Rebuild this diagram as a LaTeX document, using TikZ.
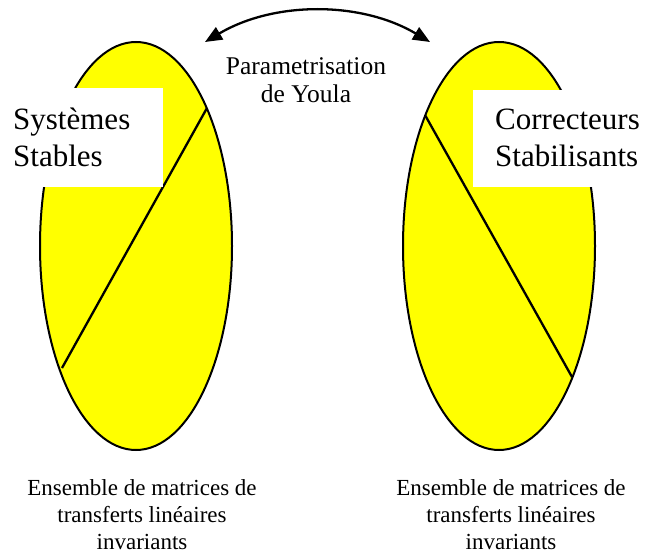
\documentclass[tikz,border=0pt]{standalone}
\usepackage{fontspec}
\setmainfont{Liberation Serif}
\usetikzlibrary{arrows.meta,shapes.geometric}
\definecolor{setyellow}{RGB}{255,255,0}
\begin{document}
\begin{tikzpicture}[x=1pt,y=-1pt,
  setshape/.style={ellipse, draw=black, line width=2pt, fill=setyellow, inner sep=0pt,
                   minimum width=192pt, minimum height=408pt},
  chord/.style={draw=black, line width=2.3pt},
  whitebox/.style={fill=white, draw=none},
  biglabel/.style={font=\fontsize{31}{37}\selectfont, align=left, inner sep=0pt, anchor=base west},
  sublabel/.style={font=\fontsize{23}{27}\selectfont, align=center, inner sep=0pt, anchor=base},
  toplabel/.style={font=\fontsize{25.5}{28}\selectfont, align=center, inner sep=0pt, anchor=base},
  youla/.style={line width=2.3pt, {Triangle[length=17pt,width=14pt]}-{Triangle[length=17pt,width=14pt]}}
]
\useasboundingbox (0,0) rectangle (645,553);
\fill[white] (0,0) rectangle (645,553);

% the two sets
\node[setshape] (lset) at (136,246) {};
\node[setshape] (rset) at (499,246) {};

% chords
\coordinate (l1) at (207,108);
\coordinate (l2) at (62,368);
\coordinate (r1) at (425,115);
\coordinate (r2) at (572,377);
\draw[chord] (l1) -- (l2);
\draw[chord] (r1) -- (r2);

% white label boxes
\fill[whitebox] (0,88) rectangle (163,187);
\fill[whitebox] (473,90) rectangle (645,187);

% labels in boxes (base anchor = last line)
\node[biglabel] (lname) at (13,167) {Systèmes\\Stables};
\node[biglabel] (rname) at (495,167) {Correcteurs\\Stabilisants};

% Youla arrow
\coordinate (aL) at (205,42);
\coordinate (aR) at (430,42);
\draw[youla] (aL) .. controls (274,1) and (361,1) .. (aR);
\node[toplabel] (youlatxt) at (306,103) {Parametrisation\\de Youla};

% bottom captions
\node[sublabel] (lcap) at (142,549) {Ensemble de matrices de\\transferts linéaires\\invariants};
\node[sublabel] (rcap) at (511,549) {Ensemble de matrices de\\transferts linéaires\\invariants};
\end{tikzpicture}
\end{document}
